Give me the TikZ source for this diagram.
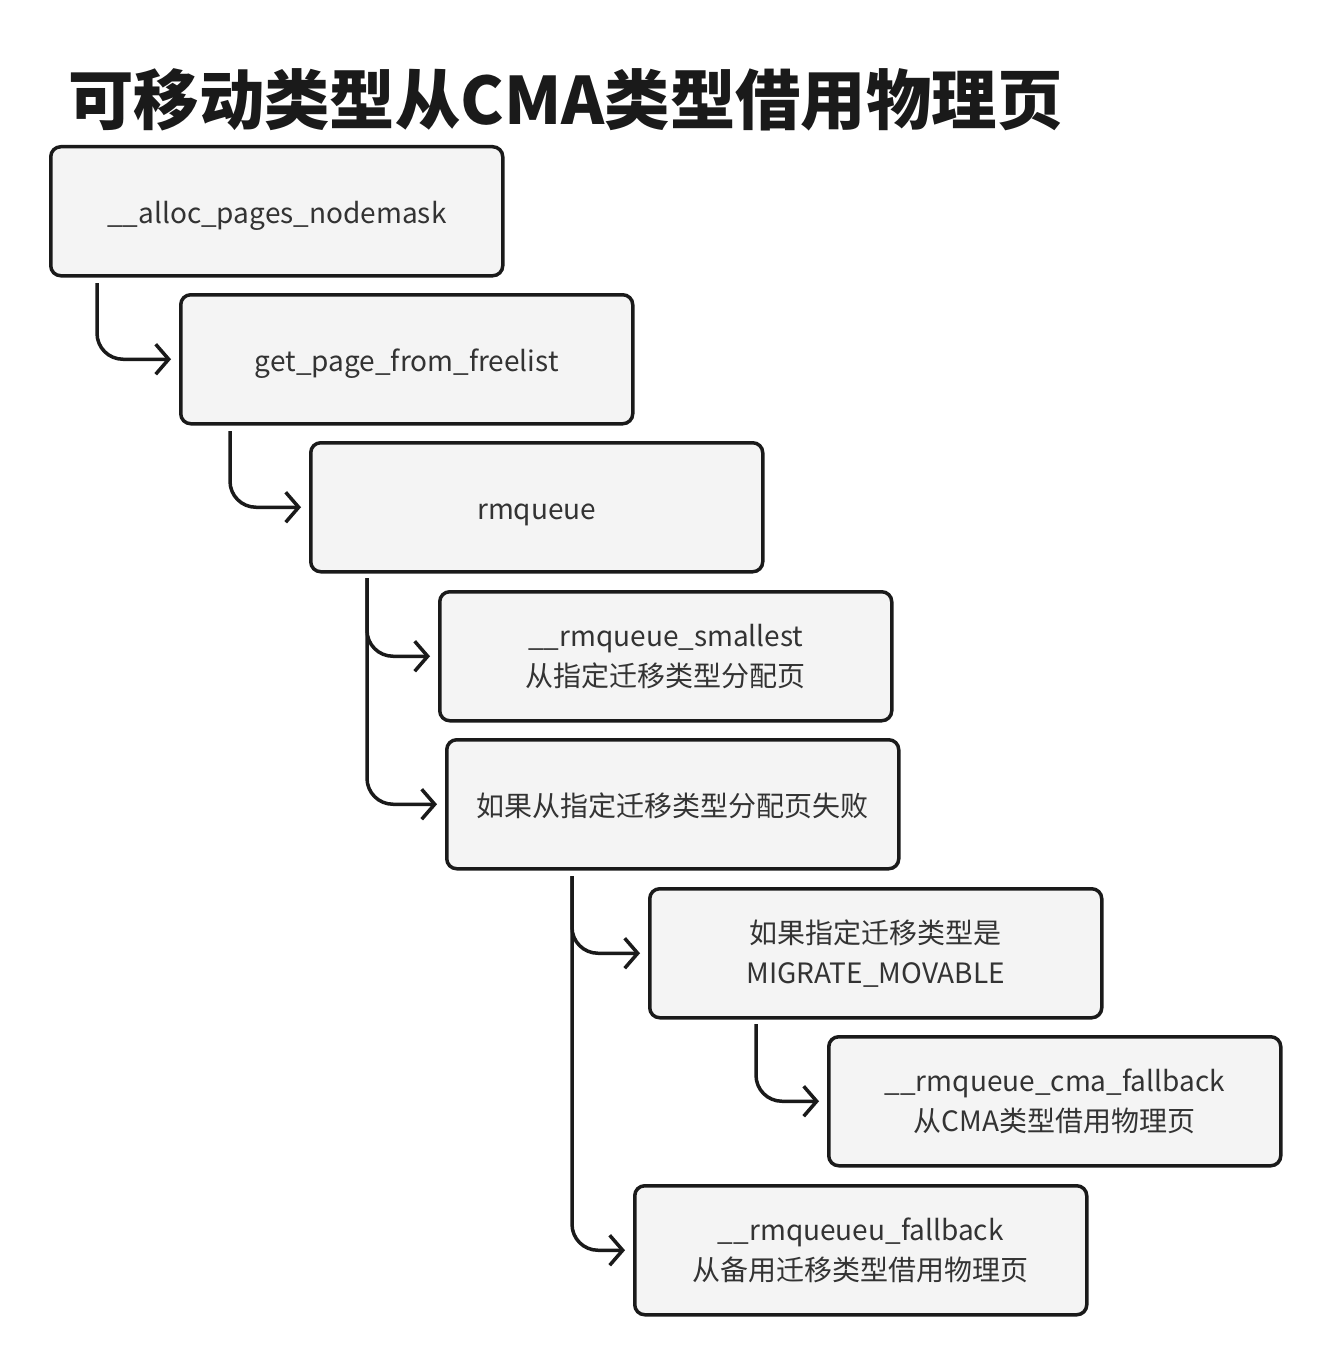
\documentclass[tikz,border=0pt]{standalone}
\usepackage{fontspec}
\setmainfont{Noto Sans CJK SC}
\usetikzlibrary{arrows.meta}
\definecolor{boxfill}{HTML}{F4F4F4}
\definecolor{ink}{HTML}{1A1A1A}
\definecolor{txt}{HTML}{333333}
\tikzset{
  fbox/.style={draw=ink, fill=boxfill, line width=3.5pt, rounded corners=10pt,
    minimum width=452pt, minimum height=129pt, anchor=north west, align=center,
    text=txt, font=\fontsize{28}{40}\selectfont, inner sep=0pt},
  oneline/.style={text height=30pt, text depth=6pt},
  conn/.style={draw=ink, line width=3.5pt, rounded corners=26pt,
    -{Straight Barb[length=13pt,width=30pt,line width=3.5pt]}, shorten >=8pt},
}
\begin{document}
\begin{tikzpicture}[x=1pt,y=-1pt]
\useasboundingbox (0,0) rectangle (1330,1364);
\node[anchor=west, text=ink, font=\fontsize{65.4}{70}\selectfont\bfseries, inner sep=0pt] (title) at (68,100) {可移动类型从CMA类型借用物理页};
\node[fbox, oneline] (a) at (49,145) {\_\_alloc\_pages\_nodemask};
\node[fbox, oneline] (b) at (179,293) {get\_page\_from\_freelist};
\node[fbox, oneline] (c) at (309,441) {rmqueue};
\node[fbox] (d) at (438,590) {\_\_rmqueue\_smallest\\从指定迁移类型分配页};
\node[fbox, oneline] (e) at (445,738) {如果从指定迁移类型分配页失败};
\node[fbox] (f) at (648,887) {如果指定迁移类型是\\MIGRATE\_MOVABLE};
\node[fbox] (g) at (827,1035) {\_\_rmqueue\_cma\_fallback\\从CMA类型借用物理页};
\node[fbox] (h) at (633,1184) {\_\_rmqueueu\_fallback\\从备用迁移类型借用物理页};
\coordinate (sa) at (97,283);
\coordinate (sb) at (230,431);
\coordinate (sc) at (367,578);
\coordinate (se) at (572,876);
\coordinate (sf) at (756,1024);
\draw[conn] (sa) |- (b.west);
\draw[conn] (sb) |- (c.west);
\draw[conn] (sc) |- (d.west);
\draw[conn] (sc) |- (e.west);
\draw[conn] (se) |- (f.west);
\draw[conn] (se) |- (h.west);
\draw[conn] (sf) |- (g.west);
\end{tikzpicture}
\end{document}
